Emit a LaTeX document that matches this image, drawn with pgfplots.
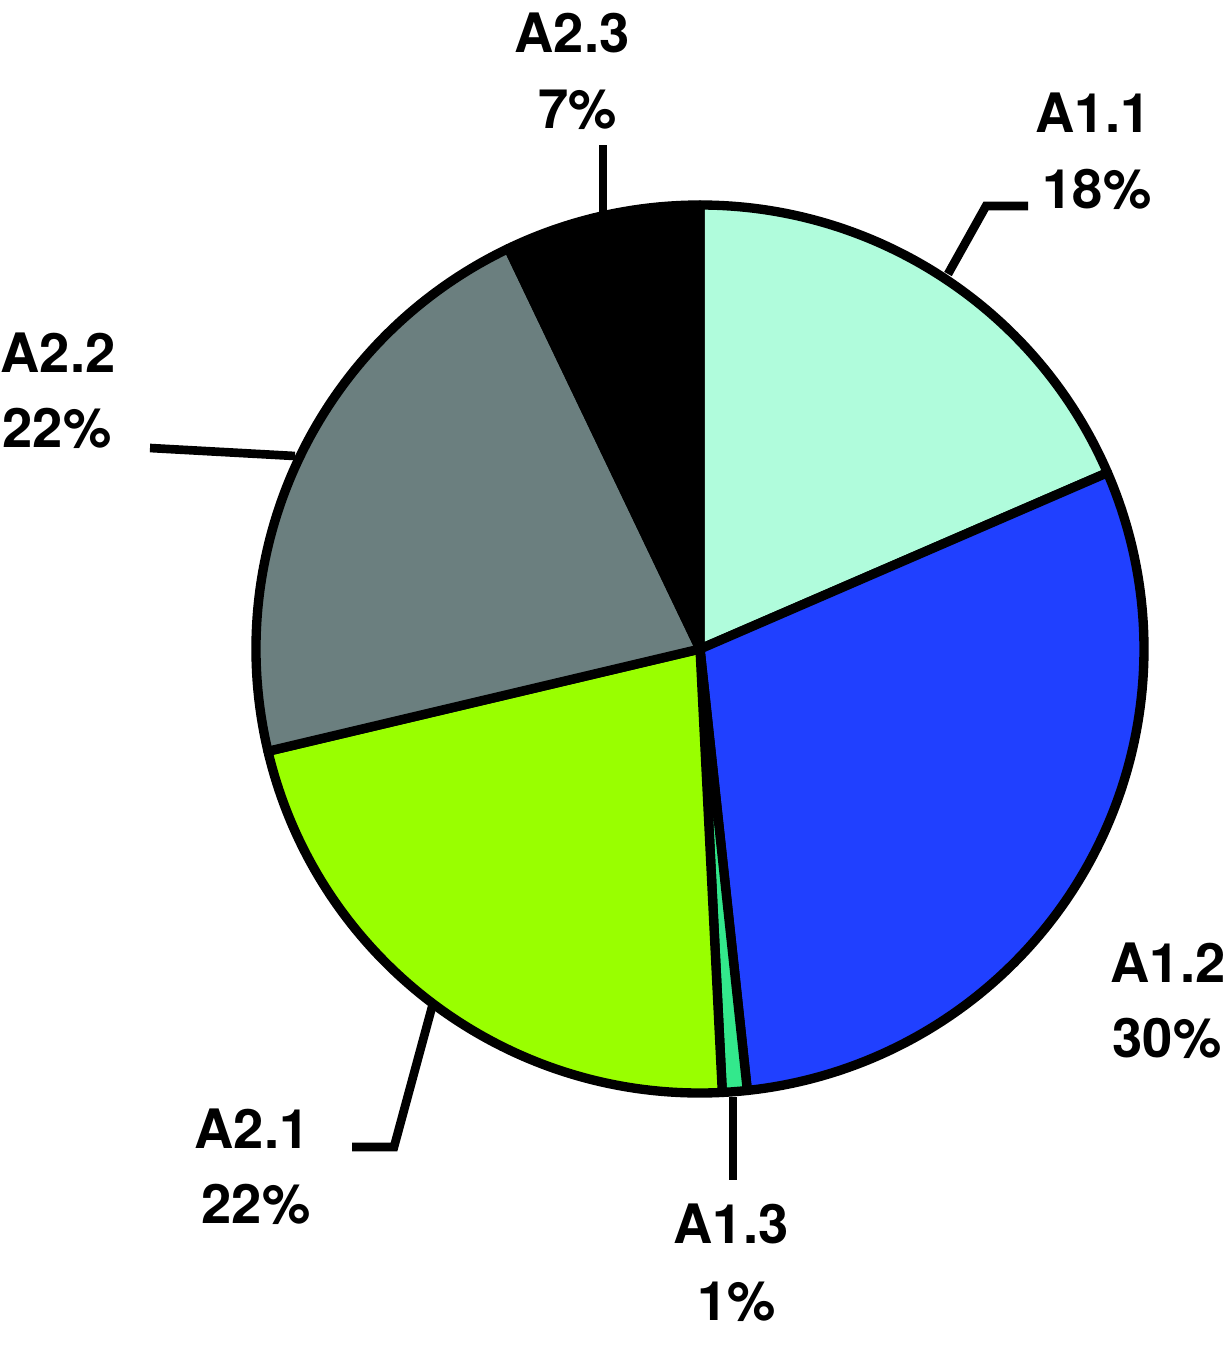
\documentclass[border=0pt]{standalone}
\usepackage{pgfplots}
\usepackage{pgfplotstable}
\pgfplotsset{compat=1.18}
\usepackage{fontspec}
\setmainfont{TeX Gyre Heros}

\definecolor{cA}{RGB}{176,252,220}
\definecolor{cB}{RGB}{32,64,255}
\definecolor{cC}{RGB}{51,232,140}
\definecolor{cD}{RGB}{153,255,0}
\definecolor{cE}{RGB}{107,127,127}
\definecolor{cF}{RGB}{0,0,0}

% share of each slice, clockwise from 12 o'clock
\pgfplotstableread{
label value col
A1.1 18.5 cA
A1.2 29.8 cB
A1.3 0.9 cC
A2.1 22.1 cD
A2.2 21.6 cE
A2.3 7.1 cF
}\piedata

\begin{document}
\begin{tikzpicture}
\begin{axis}[
  x=0.3pt, y=0.3pt,
  xmin=0, xmax=1229, ymin=0, ymax=1347,
  y dir=reverse,
  hide axis, clip=false,
]
\path (rel axis cs:0,0) rectangle (rel axis cs:1,1);
\pgfplotstablegetrowsof{\piedata}
\pgfmathtruncatemacro\last{\pgfplotsretval-1}
\def\angA{90}
\pgfplotsforeachungrouped \i in {0,...,\last}{
  \pgfplotstablegetelem{\i}{value}\of\piedata \let\v\pgfplotsretval
  \pgfplotstablegetelem{\i}{col}\of\piedata \let\c\pgfplotsretval
  \pgfmathsetmacro\angB{\angA-3.6*\v}
  \edef\temp{\noexpand\filldraw[fill=\c, draw=black, line width=2.8pt, line join=round]
    (axis cs:700,649) -- ++(\angA:133.2pt) arc[start angle=\angA, end angle=\angB, radius=133.2pt] -- cycle;}
  \temp
  \global\let\angA\angB
}

% leader lines
\draw[line width=2.6pt] (axis cs:603,212) -- (axis cs:603,145);
\draw[line width=2.6pt] (axis cs:948,274) -- (axis cs:986,206) -- (axis cs:1028,206);
\draw[line width=2.6pt] (axis cs:295,456) -- (axis cs:150,448);
\draw[line width=2.6pt] (axis cs:432,1007) -- (axis cs:394,1147) -- (axis cs:352,1147);
\draw[line width=2.6pt] (axis cs:733,1097) -- (axis cs:733,1180);

% labels
\tikzset{lbl/.style={anchor=base, inner sep=0pt, font=\fontsize{16.3}{20}\selectfont\bfseries}}
\node[lbl] at (axis cs:572,52) {A2.3};
\node[lbl] at (axis cs:578,128) {7\%};
\node[lbl] at (axis cs:1093,132) {A1.1};
\node[lbl] at (axis cs:1097,208) {18\%};
\node[lbl] at (axis cs:58,372) {A2.2};
\node[lbl] at (axis cs:57,447) {22\%};
\node[lbl] at (axis cs:252,1148) {A2.1};
\node[lbl] at (axis cs:256,1223) {22\%};
\node[lbl] at (axis cs:1168,982) {A1.2};
\node[lbl] at (axis cs:1167,1057) {30\%};
\node[lbl] at (axis cs:731,1243) {A1.3};
\node[lbl] at (axis cs:737,1320) {1\%};
\end{axis}
\end{tikzpicture}
\end{document}
